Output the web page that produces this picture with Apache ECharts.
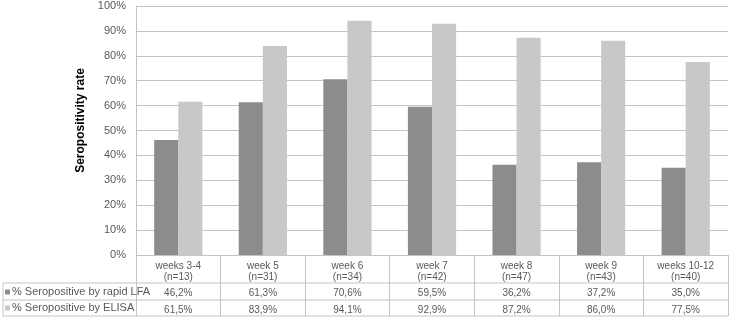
<!DOCTYPE html>
<html>
<head>
<meta charset="utf-8">
<script src="https://cdn.jsdelivr.net/npm/echarts@6/dist/echarts.min.js"></script>
<style>
  html, body { margin: 0; padding: 0; background: #fff; }
  #main { width: 730px; height: 319px; }
</style>
</head>
<body>
<div id="main"></div>
<script>
// data
const categories = ['weeks 3-4', 'week 5', 'week 6', 'week 7', 'week 8', 'week 9', 'weeks 10-12'];
const sampleSizes = [13, 31, 34, 42, 47, 43, 40];
const lfaValues = [46.2, 61.3, 70.6, 59.5, 36.2, 37.2, 35.0];
const elisaValues = [61.5, 83.9, 94.1, 92.9, 87.2, 86.0, 77.5];
const seriesNames = ['% Seropositive by rapid LFA', '% Seropositive by ELISA'];

const fmt = v => v.toFixed(1).replace('.', ',') + '%';

const chart = echarts.init(document.getElementById('main'));

const gridLeft = 136, gridRight = 728, axisY = 255;
const row1 = 283, row2 = 300, row3 = 316, tableLeft = 3;
const lineColor = '#c4c4c4';

const hline = (y) => ({
  type: 'line',
  shape: { x1: tableLeft, y1: y, x2: gridRight, y2: y },
  style: { stroke: lineColor, lineWidth: 1 },
  silent: true
});

let option = {
  animation: false,
  textStyle: { fontFamily: 'Liberation Sans' },
  grid: { left: gridLeft, right: 730 - gridRight, top: 6, bottom: 319 - axisY },
  legend: {
    orient: 'vertical',
    left: 5,
    top: row1 + 1,
    height: 34,
    padding: 0,
    itemWidth: 5,
    itemHeight: 5,
    itemGap: 0,
    icon: 'rect',
    data: seriesNames,
    textStyle: { color: '#595959', fontSize: 11, lineHeight: 16, padding: [0, 0, 0, -3] }
  },
  xAxis: {
    type: 'category',
    data: categories,
    axisLine: { show: true, lineStyle: { color: lineColor } },
    axisTick: { show: true, length: row3 - axisY, lineStyle: { color: lineColor } },
    axisLabel: {
      margin: 6,
      interval: 0,
      formatter: (val, i) =>
        '{a|' + val + '}\n{a|(n=' + sampleSizes[i] + ')}\n{s| }\n{b|' + fmt(lfaValues[i]) + '}\n{b|' + fmt(elisaValues[i]) + '}',
      rich: {
        a: { color: '#595959', fontSize: 10, lineHeight: 11, fontFamily: 'Liberation Sans' },
        s: { fontSize: 2, lineHeight: 2 },
        b: { color: '#595959', fontSize: 10, lineHeight: 16.5, fontFamily: 'Liberation Sans' }
      }
    }
  },
  yAxis: {
    type: 'value',
    min: 0,
    max: 100,
    interval: 10,
    name: 'Seropositivity rate',
    nameLocation: 'middle',
    nameRotate: 90,
    nameGap: 49,
    nameTextStyle: { color: '#000', fontWeight: 'bold', fontSize: 12, fontFamily: 'Liberation Sans', padding: [0, 0, 0, 20] },
    axisLine: { show: true, lineStyle: { color: lineColor } },
    axisTick: { show: false },
    axisLabel: { formatter: '{value}%', color: '#595959', fontSize: 11, margin: 10 },
    splitLine: { lineStyle: { color: lineColor } }
  },
  series: [
    {
      name: seriesNames[0],
      type: 'bar',
      color: '#8c8c8c',
      barGap: 0,
      barCategoryGap: '43%',
      data: lfaValues
    },
    {
      name: seriesNames[1],
      type: 'bar',
      color: '#c8c8c8',
      data: elisaValues
    }
  ],
  graphic: [
    hline(row1),
    hline(row2),
    hline(row3),
    {
      type: 'line',
      shape: { x1: tableLeft, y1: row1, x2: tableLeft, y2: row3 },
      style: { stroke: lineColor, lineWidth: 1 },
      silent: true
    }
  ]
};
chart.setOption(option);
</script>
</body>
</html>
